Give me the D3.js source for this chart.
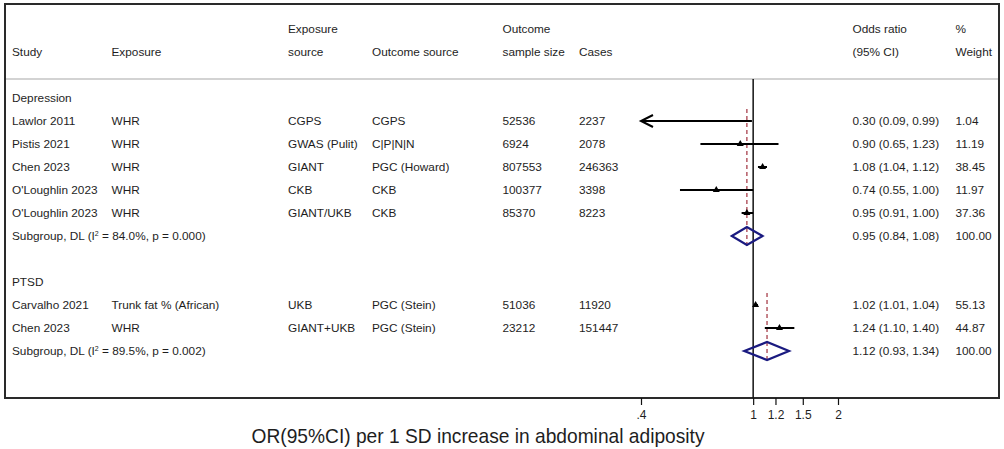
<!DOCTYPE html>
<html><head><meta charset="utf-8">
<script src="https://cdn.jsdelivr.net/npm/d3@7"></script>
<style>
html,body{margin:0;padding:0;background:#fff;}
svg{display:block;font-family:"Liberation Sans",Arial,sans-serif;}
</style></head>
<body><svg id="c" width="1004" height="449"></svg>
<script>
// ---- data ----
const groupNames = ["Depression", "PTSD"];
const studyGroup = [0, 0, 0, 0, 0, 1, 1];
const studyNames = ["Lawlor 2011", "Pistis 2021", "Chen 2023", "O'Loughlin 2023", "O'Loughlin 2023", "Carvalho 2021", "Chen 2023"];
const exposures = ["WHR", "WHR", "WHR", "WHR", "WHR", "Trunk fat % (African)", "WHR"];
const exposureSources = ["CGPS", "GWAS (Pulit)", "GIANT", "CKB", "GIANT/UKB", "UKB", "GIANT+UKB"];
const outcomeSources = ["CGPS", "C|P|N|N", "PGC (Howard)", "CKB", "CKB", "PGC (Stein)", "PGC (Stein)"];
const sampleSizes = ["52536", "6924", "807553", "100377", "85370", "51036", "23212"];
const cases = ["2237", "2078", "246363", "3398", "8223", "11920", "151447"];
const orValues = [0.30, 0.90, 1.08, 0.74, 0.95, 1.02, 1.24];
const ciLow = [0.09, 0.65, 1.04, 0.55, 0.91, 1.01, 1.10];
const ciHigh = [0.99, 1.23, 1.12, 1.00, 1.00, 1.04, 1.40];
const weights = ["1.04", "11.19", "38.45", "11.97", "37.36", "55.13", "44.87"];
const subOR = [0.95, 1.12];
const subLow = [0.84, 0.93];
const subHigh = [1.08, 1.34];
const subI2 = ["84.0%", "89.5%"];
const subP = ["0.000", "0.002"];
const tickValues = [0.4, 1, 1.2, 1.5, 2];
const tickLabels = [".4", "1", "1.2", "1.5", "2"];
const xTitle = "OR(95%CI) per 1 SD increase in abdominal adiposity";

// ---- layout ----
const svg = d3.select("#c");
const fmt = d3.format(".2f");
const x = d3.scaleLog().domain([0.4, 2]).range([641, 838]);
const rowY = d3.scaleLinear().domain([0, 1]).range([98, 121]);
const textCol = "#1e1e1e";
const fs = 11.8;

// build rows
const rows = [];
let r = 0;
groupNames.forEach((g, gi) => {
  if (gi > 0) r += 1; // blank row
  rows.push({type: "group", label: g, row: r++});
  studyGroup.forEach((sg, i) => { if (sg === gi) rows.push({type: "study", i, row: r++}); });
  rows.push({type: "sub", gi, row: r++});
});

// frame
const L = 5, T = 4, R = 999, B = 398;
svg.append("line").attr("x1", L).attr("x2", R).attr("y1", 79).attr("y2", 79)
  .attr("stroke", "#c4c4c4").attr("stroke-width", 1.5);
svg.append("rect").attr("x", L).attr("y", T).attr("width", R - L).attr("height", B - T).attr("fill", "none")
  .attr("stroke", "#2a2a2a").attr("stroke-width", 2);

// headers
const cols = {study: 12, exp: 111.5, expSrc: 288, outSrc: 372, n: 502.5, cases: 579, or: 852.5, w: 955.5};
const hdr = [
  [cols.study, 56, "Study"], [cols.exp, 56, "Exposure"], [cols.expSrc, 33, "Exposure"], [cols.expSrc, 56, "source"],
  [cols.outSrc, 56, "Outcome source"], [cols.n, 33, "Outcome"], [cols.n, 56, "sample size"], [cols.cases, 56, "Cases"],
  [cols.or, 33, "Odds ratio"], [cols.or, 56, "(95% CI)"], [cols.w, 33, "%"], [cols.w, 56, "Weight"]
];
svg.append("g").selectAll("text").data(hdr).join("text")
  .attr("x", d => d[0]).attr("y", d => d[1]).text(d => d[2])
  .attr("font-size", fs).attr("fill", textCol);

// null line
svg.append("line").attr("x1", x(1)).attr("x2", x(1)).attr("y1", 79).attr("y2", B)
  .attr("stroke", "#111").attr("stroke-width", 1.5);

const gT = svg.append("g").attr("font-size", fs).attr("fill", textCol);
const gM = svg.append("g");

rows.forEach(d => {
  const y = rowY(d.row);
  const by = y + 4;
  if (d.type === "group") {
    gT.append("text").attr("x", cols.study).attr("y", by).text(d.label);
  } else if (d.type === "study") {
    const i = d.i;
    [[cols.study, studyNames[i]], [cols.exp, exposures[i]], [cols.expSrc, exposureSources[i]],
     [cols.outSrc, outcomeSources[i]], [cols.n, sampleSizes[i]], [cols.cases, cases[i]],
     [cols.or, `${fmt(orValues[i])} (${fmt(ciLow[i])}, ${fmt(ciHigh[i])})`], [cols.w, weights[i]]]
      .forEach(c => gT.append("text").attr("x", c[0]).attr("y", by).text(c[1]));
    const lo = Math.max(ciLow[i], x.domain()[0]);
    const x0 = x(lo), x1 = x(Math.min(ciHigh[i], x.domain()[1]));
    gM.append("line").attr("x1", x0).attr("x2", x1).attr("y1", y).attr("y2", y)
      .attr("stroke", "#000").attr("stroke-width", 2);
    if (ciLow[i] < x.domain()[0]) {
      gM.append("path").attr("d", `M${x0 + 12},${y - 6}L${x0},${y}L${x0 + 12},${y + 6}`)
        .attr("fill", "none").attr("stroke", "#000").attr("stroke-width", 2);
    }
    if (orValues[i] >= x.domain()[0]) {
      const cx = x(orValues[i]);
      gM.append("path").attr("d", `M${cx - 3.5},${y + 2}L${cx},${y - 4}L${cx + 3.5},${y + 2}Z`).attr("fill", "#000");
    }
  } else {
    const gi = d.gi;
    const t = gT.append("text").attr("x", cols.study).attr("y", by);
    t.append("tspan").text("Subgroup, DL (I");
    t.append("tspan").attr("font-size", 7).attr("dy", -4).text("2");
    t.append("tspan").attr("dy", 4).text(` = ${subI2[gi]}, p = ${subP[gi]})`);
    gT.append("text").attr("x", cols.or).attr("y", by).text(`${fmt(subOR[gi])} (${fmt(subLow[gi])}, ${fmt(subHigh[gi])})`);
    gT.append("text").attr("x", cols.w).attr("y", by).text("100.00");
    // dashed overall line
    const first = rows.find(q => q.type === "study" && studyGroup[q.i] === gi);
    svg.append("line").attr("x1", x(subOR[gi])).attr("x2", x(subOR[gi]))
      .attr("y1", rowY(first.row) - 12).attr("y2", y + 11)
      .attr("stroke", "#a8404c").attr("stroke-width", 1.3).attr("stroke-dasharray", "4,3");
    gM.append("path").attr("d", `M${x(subLow[gi])},${y}L${x(subOR[gi])},${y - 9}L${x(subHigh[gi])},${y}L${x(subOR[gi])},${y + 9}Z`)
      .attr("fill", "none").attr("stroke", "#1a1a80").attr("stroke-width", 2.2);
  }
});
gM.raise();

// axis
const axis = d3.axisBottom(x).tickValues(tickValues).tickFormat((d, i) => tickLabels[i]).tickSize(7).tickSizeOuter(0);
const ga = svg.append("g").attr("transform", `translate(0,${B})`).call(axis);
ga.select(".domain").remove();
ga.selectAll(".tick line").attr("stroke", "#111").attr("stroke-width", 1.2);
ga.selectAll(".tick text").attr("font-size", 12).attr("fill", textCol).attr("y", 12)
  .attr("font-family", "'Liberation Sans Narrow','Liberation Sans',Arial,sans-serif");

svg.append("text").attr("x", 478).attr("y", 443).attr("text-anchor", "middle")
  .attr("font-family", "'Liberation Sans Narrow','Liberation Sans',Arial,sans-serif")
  .attr("font-size", 21).attr("fill", textCol).attr("textLength", 453).attr("lengthAdjust", "spacingAndGlyphs")
  .text(xTitle);
</script></body></html>
